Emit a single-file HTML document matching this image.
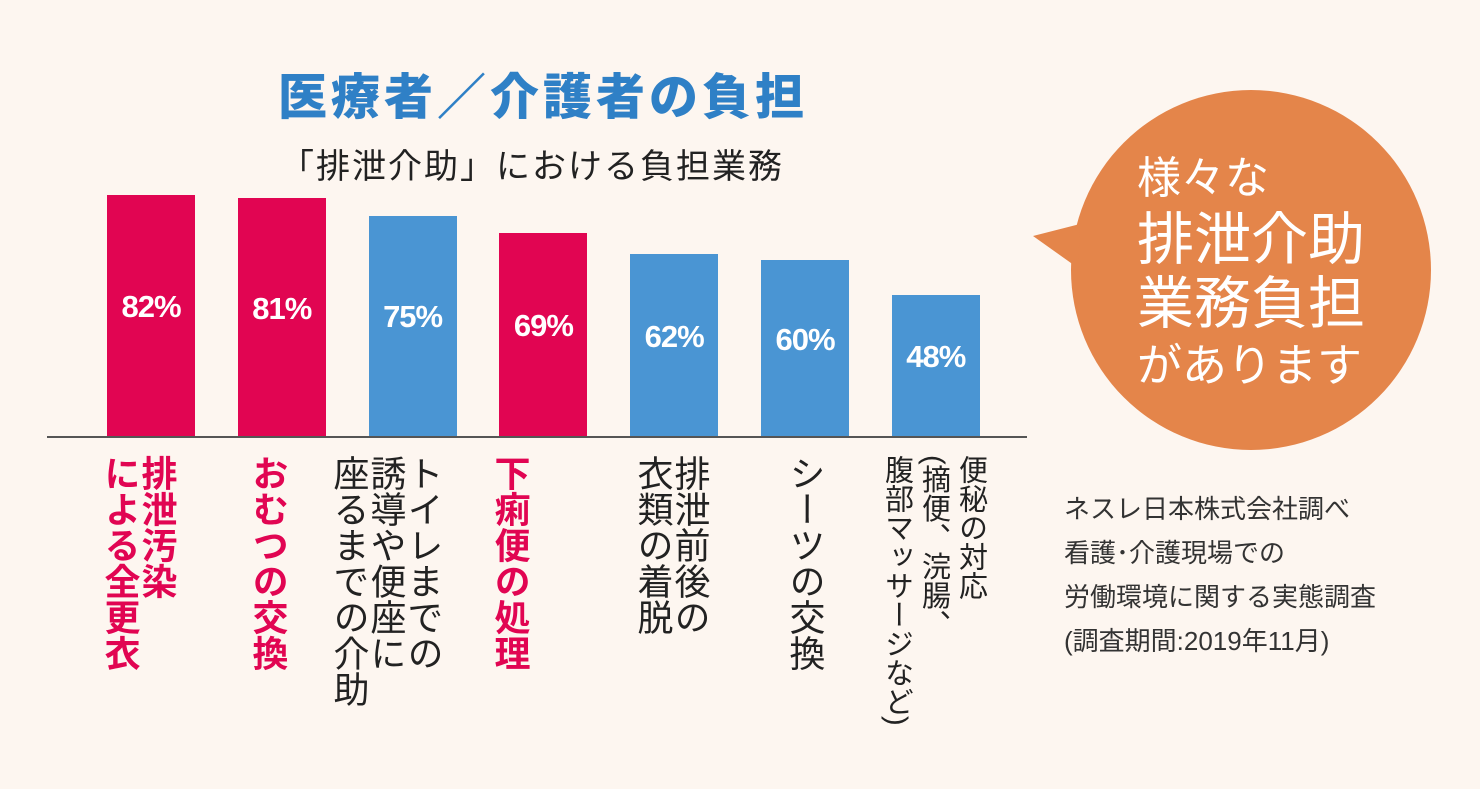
<!DOCTYPE html>
<html><head><meta charset="utf-8"><style>
body{margin:0;width:1480px;height:789px;background:#fdf6f0;position:relative;overflow:hidden;font-family:"Liberation Sans","Noto Sans CJK JP",sans-serif}
.abs{position:absolute}
.vl{position:absolute;writing-mode:vertical-rl;font-size:36px;line-height:37px;white-space:nowrap;top:455px}
.red{color:#e10552;font-weight:bold}
.blk{color:#222}
.pct{position:absolute;color:#fff;font-weight:bold;font-size:31px;letter-spacing:-1px;text-align:center;width:88px}
</style></head><body>
<div class="abs" style="left:278px;top:58px;font-size:49px;font-weight:900;color:#2f80c6;letter-spacing:4px;white-space:nowrap">医療者／介護者の負担</div>
<div class="abs" style="left:280px;top:139px;font-size:34px;color:#222;white-space:nowrap;letter-spacing:2px">「排泄介助」における負担業務</div>
<svg class="abs" style="left:0;top:0" width="1480" height="789">
<circle cx="1251" cy="270" r="180" fill="#e4854a"/>
<polygon points="1033,236 1080,224 1078,268" fill="#e4854a"/>
</svg>
<div class="abs" style="left:1137px;top:150px;color:#fff;white-space:nowrap">
<div style="font-size:44px;line-height:58px">様々な</div>
<div style="font-size:57px;line-height:64px">排泄介助</div>
<div style="font-size:57px;line-height:64px">業務負担</div>
<div style="font-size:45px;line-height:60px">があります</div>
</div>
<div class="abs" style="left:1064px;top:487px;font-size:26px;line-height:44px;color:#333;white-space:nowrap">ネスレ日本株式会社調べ<br>看護･介護現場での<br>労働環境に関する実態調査<br>(調査期間:2019年11月)</div>
<div id="chart"></div>
<div class="abs" style="left:47px;top:436px;width:980px;height:2px;background:#555"></div>
<script>
const categories=["排泄汚染<br>による全更衣","おむつの交換","トイレまでの<br>誘導や便座に<br>座るまでの介助","下痢便の処理","排泄前後の<br>衣類の着脱","シーツの交換","便秘の対応<br>(摘便、浣腸、<br>腹部マッサージなど)"];
const values=[82,81,75,69,62,60,48];
const highlight=[true,true,false,true,false,false,false];
const labelRightX=[157,268,423,510,690,805,970];
const labelFont=[36,36,36,36,36,36,29];
const base=437, scale=295/100, barW=88;
function xLeft(i){return 107+i*130.8;}
function yOf(v){return base-v*scale;}
const root=document.getElementById('chart');
values.forEach((v,i)=>{
  const b=document.createElement('div');
  
  
  b.className='abs';
  b.style.cssText=`left:${xLeft(i)}px;top:${yOf(v)}px;width:${barW}px;height:${v*scale}px;background:${highlight[i]?'#e10552':'#4a95d3'}`;
  root.appendChild(b);
  const p=document.createElement('div');
  
  
  p.className='pct';
  p.textContent=v+'%';
  p.style.left=xLeft(i)+'px';
  p.style.top=((yOf(v)+base)/2-27)+'px';
  root.appendChild(p);
  const n=categories[i].split('<br>').length;
  const l=document.createElement('div');
  
  
  l.className='vl '+(highlight[i]?'red':'blk');
  l.innerHTML=categories[i];
  l.style.fontSize=labelFont[i]+'px';
  l.style.left=(labelRightX[i]+18.5-n*37)+'px';
  root.appendChild(l);
});
</script>
</body></html>
